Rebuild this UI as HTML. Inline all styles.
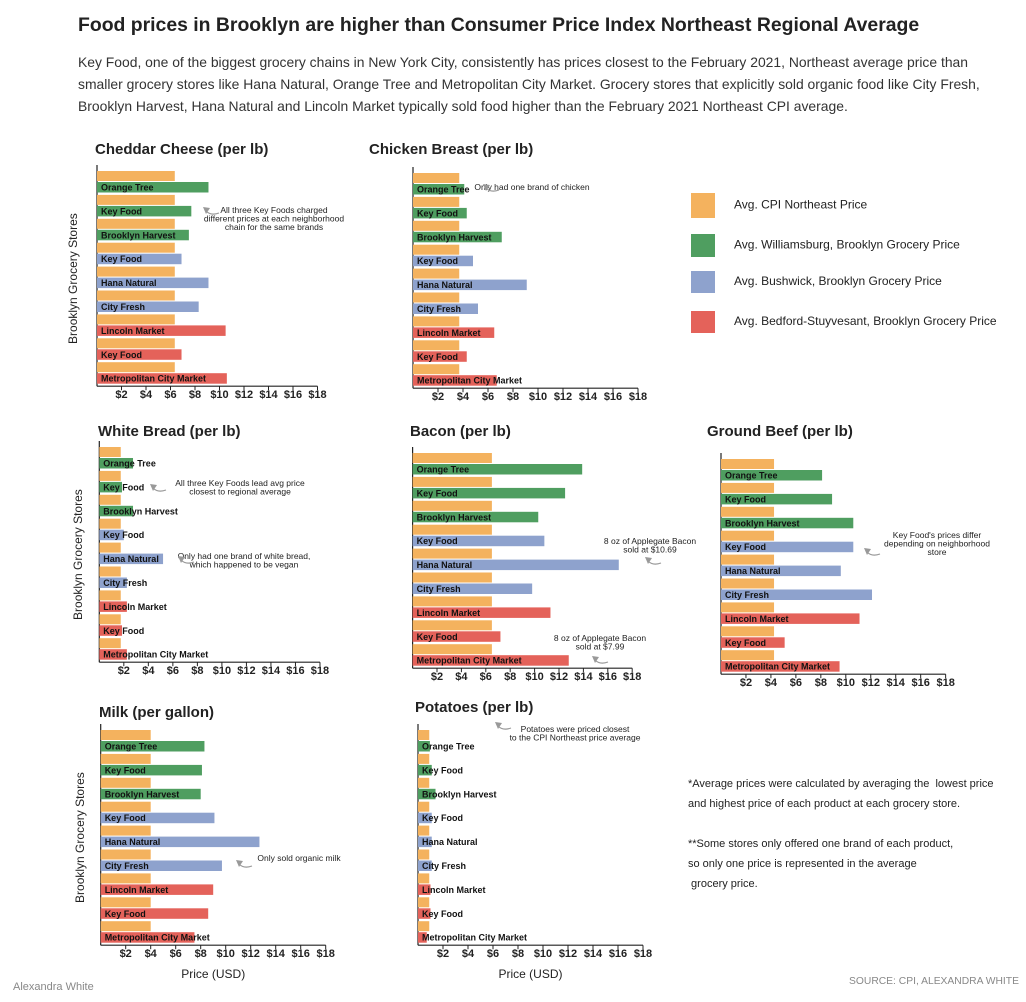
<!DOCTYPE html>
<html><head><meta charset="utf-8"><style>
body{margin:0;background:#fff;}
#wrap{position:relative;width:1026px;height:1002px;overflow:hidden;font-family:"Liberation Sans",sans-serif;}
.t{position:absolute;white-space:nowrap;}
</style></head><body>
<div id="wrap">
<div class="t" style="left:78px;top:14px;font-size:19.4px;font-weight:bold;color:#222;">Food prices in Brooklyn are higher than Consumer Price Index Northeast Regional Average</div>
<div class="t" style="left:78px;top:51px;font-size:13.9px;line-height:22px;color:#333;">Key Food, one of the biggest grocery chains in New York City, consistently has prices closest to the February 2021, Northeast average price than<br>smaller grocery stores like Hana Natural, Orange Tree and Metropolitan City Market. Grocery stores that explicitly sold organic food like City Fresh,<br>Brooklyn Harvest, Hana Natural and Lincoln Market typically sold food higher than the February 2021 Northeast CPI average.</div>
<div class="t" style="left:688px;top:774px;font-size:11px;line-height:20px;color:#222;">*Average prices were calculated by averaging the&nbsp; lowest price<br>and highest price of each product at each grocery store.<br><br>**Some stores only offered one brand of each product,<br>so only one price is represented in the average<br>&nbsp;grocery price.</div>
<div class="t" style="left:849px;top:976px;font-size:10.3px;color:#888;">SOURCE: CPI, ALEXANDRA WHITE</div>
<div class="t" style="left:13px;top:981px;font-size:11px;color:#888;">Alexandra White</div>
<svg id="svg" width="1026" height="1002" style="position:absolute;left:0;top:0"></svg>
</div>
<script>
const stores = ["Orange Tree","Key Food","Brooklyn Harvest","Key Food","Hana Natural","City Fresh","Lincoln Market","Key Food","Metropolitan City Market"];
const neighborhoods = ["w","w","w","b","b","b","s","s","s"];
const tickLabels = ["$2","$4","$6","$8","$10","$12","$14","$16","$18"];
const tickValues = [2,4,6,8,10,12,14,16,18];
const cheddarCPI = 6.35;
const cheddarPrices = [9.1,7.7,7.5,6.9,9.1,8.3,10.5,6.9,10.6];
const chickenCPI = 3.7;
const chickenPrices = [4.1,4.3,7.1,4.8,9.1,5.2,6.5,4.3,6.7];
const breadCPI = 1.75;
const breadPrices = [2.75,1.85,2.75,2.0,5.2,2.25,2.25,1.85,2.25];
const baconCPI = 6.5;
const baconPrices = [13.9,12.5,10.3,10.8,16.9,9.8,11.3,7.2,12.8];
const beefCPI = 4.25;
const beefPrices = [8.1,8.9,10.6,10.6,9.6,12.1,11.1,5.1,9.5];
const milkCPI = 4.0;
const milkPrices = [8.3,8.1,8.0,9.1,12.7,9.7,9.0,8.6,7.5];
const potatoCPI = 0.9;
const potatoPrices = [0.95,1.1,1.4,1.1,1.1,1.1,1.0,1.0,0.7];

const colors={cpi:"#f4b25e",w:"#4f9e60",b:"#8ea2cd",s:"#e4625a"};
const svg=document.getElementById('svg');
const NS="http://www.w3.org/2000/svg";
function mk(tag,attrs,parent){const e=document.createElementNS(NS,tag);for(const k in attrs)e.setAttribute(k,attrs[k]);(parent||svg).appendChild(e);return e;}

function panel(name,title,titleX,titleY,x0,ppd,yTop,cpi,prices,yTitle,yTitleX,xTitle){
  const g=mk('g',{});
  
  
  const xs=v=>x0+v*ppd;
  const pitch=23.9;
  const t=mk('text',{x:titleX,y:titleY,'font-size':15,'font-weight':'bold',fill:'#222','font-family':'Liberation Sans, sans-serif'},g);
  t.textContent=title;
  
  
  const axBottom=yTop+8*pitch+24;
  const yax=mk('line',{x1:x0,y1:yTop-6,x2:x0,y2:axBottom,stroke:'#222','stroke-width':1.2},g);
  
  
  const xax=mk('line',{x1:x0,y1:axBottom,x2:xs(18),y2:axBottom,stroke:'#222','stroke-width':1.2},g);
  
  
  tickValues.forEach((v,i)=>{
    mk('line',{x1:xs(v),y1:axBottom,x2:xs(v),y2:axBottom+4,stroke:'#222','stroke-width':1},g);
    const tl=mk('text',{x:xs(v),y:axBottom+12,'font-size':11,'font-weight':'bold','text-anchor':'middle',fill:'#222'},g);
    tl.textContent=tickLabels[i];
    
    
  });
  prices.forEach((p,i)=>{
    const y=yTop+i*pitch;
    const r1=mk('rect',{x:x0,y:y,width:xs(cpi)-x0,height:10,fill:colors.cpi},g);
    
    
    const r2=mk('rect',{x:x0,y:y+11,width:xs(p)-x0,height:10.5,fill:colors[neighborhoods[i]]},g);
    
    
    const lb=mk('text',{x:x0+4,y:y+19.5,'font-size':9,fill:'#111','font-weight':'bold'},g);
    lb.textContent=stores[i];
    
    
  });
  if(yTitle){
    const cy=(yTop+axBottom)/2;
    const yt=mk('text',{x:yTitleX,y:cy,'font-size':12,fill:'#222','text-anchor':'middle',transform:`rotate(-90 ${yTitleX} ${cy})`},g);
    yt.textContent='Brooklyn Grocery Stores';
    
    
  }
  if(xTitle){
    const xt=mk('text',{x:xs(9),y:axBottom+33,'font-size':12,fill:'#222','text-anchor':'middle'},g);
    xt.textContent='Price (USD)';
    
    
  }
}
panel('cheddar','Cheddar Cheese (per lb)',95,154,97,12.25,171,cheddarCPI,cheddarPrices,true,77,false);
panel('chicken','Chicken Breast (per lb)',369,154,413,12.5,173,chickenCPI,chickenPrices,false,0,false);
panel('bread','White Bread  (per lb)',98,436,99.3,12.26,447,breadCPI,breadPrices,true,82,false);
panel('bacon','Bacon (per lb)',410,436,412.6,12.2,453,baconCPI,baconPrices,false,0,false);
panel('beef','Ground Beef (per lb)',707,436,721,12.48,459,beefCPI,beefPrices,false,0,false);
panel('milk','Milk (per gallon)',99,717,100.7,12.5,730,milkCPI,milkPrices,true,84,true);
panel('potatoes','Potatoes (per lb)',415,712,418,12.5,730,potatoCPI,potatoPrices,false,0,true);

const legItems=[["cpi","Avg. CPI Northeast Price",193,25],["w","Avg. Williamsburg, Brooklyn Grocery Price",234,23],["b","Avg. Bushwick, Brooklyn Grocery Price",271,22],["s","Avg. Bedford-Stuyvesant, Brooklyn Grocery Price",311,22]];
legItems.forEach(l=>{
  const r=mk('rect',{x:691,y:l[2],width:24,height:l[3],fill:colors[l[0]]});
  
  
  const t=mk('text',{x:734,y:l[2]+l[3]/2+3,'font-size':12,fill:'#222'});
  t.textContent=l[1];
  
  
});

const notes=[
 [["All three Key Foods charged","different prices at each neighborhood","chain for the same brands"],274,213,203,211],
 [["Only had one brand of chicken"],532,190,483,188],
 [["All three Key Foods lead avg price","closest to regional average"],240,486,150,488],
 [["Only had one brand of white bread,","which happened to be vegan"],244,559,178,560],
 [["8 oz of Applegate Bacon","sold at $10.69"],650,544,645,561],
 [["8 oz of Applegate Bacon","sold at $7.99"],600,641,592,660],
 [["Key Food's prices differ","depending on neighborhood","store"],937,538,864,552],
 [["Only sold organic milk"],299,861,236,864],
 [["Potatoes were priced closest","to the CPI Northeast price average"],575,732,495,726]
];
notes.forEach(n=>{
  n[0].forEach((s,i)=>{
    const t=mk('text',{x:n[1],y:n[2]+i*8.5,'font-size':8.5,fill:'#222','text-anchor':'middle'});
    t.textContent=s;
    
    
  });
  const a=mk('path',{d:`M${n[3]+16},${n[4]+2} Q${n[3]+8},${n[4]+5} ${n[3]+3},${n[4]}`,stroke:'#999',fill:'none','stroke-width':1.2});
  
  
  const h=mk('path',{d:`M${n[3]},${n[4]-4} L${n[3]+7},${n[4]-3} L${n[3]+3},${n[4]+3} Z`,fill:'#999'});
  
  
});
</script>
</body></html>
